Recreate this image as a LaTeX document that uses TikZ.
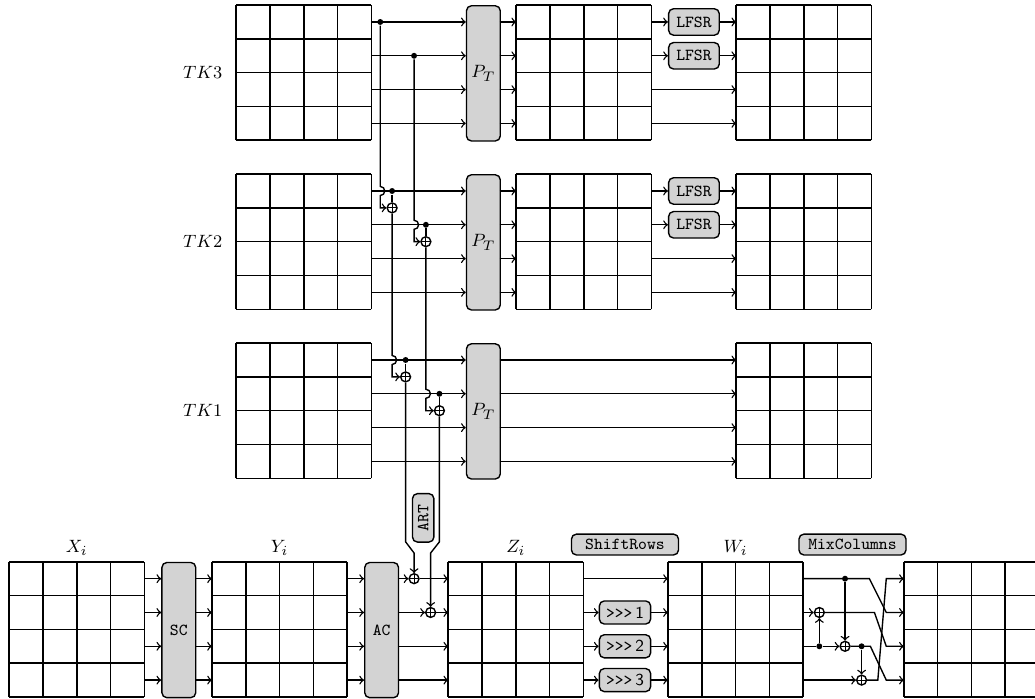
\documentclass[tikz,border=0pt]{standalone}
\usepackage{fontspec}
\definecolor{boxgray}{RGB}{211,211,211}
\newcommand{\ttlab}{\fontsize{8.5}{10}\selectfont\ttfamily}
\newcommand{\mathlab}{\fontsize{9.5}{11}\selectfont}
\newcommand{\mygrid}[3]{%
  \draw[gridline, shift={(#2,#3)}, step=0.6cm] (0,0) grid (4,-4);
  \node[inner sep=0pt, minimum width=2.4cm, minimum height=2.4cm, anchor=north west] (#1) at (#2,#3) {};
  \foreach \k in {1,2,3,4}{%
    \coordinate (#1-L\k) at (#2,{#3-\k+0.5});
    \coordinate (#1-R\k) at ({#2+4},{#3-\k+0.5});
  }%
}
\newcommand{\tallbox}[4]{%
  \node[tbox, anchor=north west] (#1) at (#2,#3) {#4};
  \foreach \k in {1,2,3,4}{%
    \coordinate (#1-L\k) at (#2,{#3-\k+0.5});
    \coordinate (#1-R\k) at ({#2+1},{#3-\k+0.5});
  }%
}
\begin{document}
\begin{tikzpicture}[x=0.6cm, y=0.6cm, line width=0.7pt,
  gridline/.style={line width=0.8pt},
  tbox/.style={draw, fill=boxgray, rounded corners=2.5pt, minimum width=0.6cm, minimum height=2.4cm, inner sep=0pt},
  sbox/.style={draw, fill=boxgray, rounded corners=2.5pt, inner sep=0pt, font=\ttlab},
  xorn/.style={circle, draw, fill=white, inner sep=0pt, minimum size=5pt,
    path picture={\draw[line width=0.5pt] (path picture bounding box.north) -- (path picture bounding box.south)
      (path picture bounding box.west) -- (path picture bounding box.east);}},
  dotn/.style={circle, fill=black, inner sep=0pt, minimum size=3pt},
  lab/.style={font=\mathlab, inner sep=1pt}]
\useasboundingbox (0,0) rectangle (30.62,-20.65);

% ---------- bottom round ----------
\mygrid{X}{0.27}{-16.62}
\tallbox{SC}{4.77}{-16.62}{\ttlab SC}
\mygrid{Y}{6.27}{-16.62}
\tallbox{AC}{10.77}{-16.62}{\ttlab AC}
\mygrid{Z}{13.26}{-16.62}
\mygrid{W}{19.76}{-16.62}
\mygrid{O}{26.74}{-16.62}

\node[lab] (lX) at (2.27,-16.2) {$X_i$};
\node[lab] (lY) at (8.27,-16.2) {$Y_i$};
\node[lab] (lZ) at (15.26,-16.2) {$Z_i$};
\node[lab] (lW) at (21.76,-16.2) {$W_i$};

\foreach \k in {1,2,3,4}{%
  \draw[->] (X-R\k) -- (SC-L\k);
  \draw[->] (SC-R\k) -- (Y-L\k);
  \draw[->] (Y-R\k) -- (AC-L\k);
}
\draw[->] (AC-R3) -- (Z-L3);
\draw[->] (AC-R4) -- (Z-L4);
\node[xorn] (xa0) at (12.25,-17.12) {};
\node[xorn] (xb0) at (12.74,-18.12) {};
\draw[->] (AC-R1) -- (xa0);
\draw[->] (xa0) -- (Z-L1);
\draw[->] (AC-R2) -- (xb0);
\draw[->] (xb0) -- (Z-L2);

% ShiftRows
\node[sbox, minimum width=1.9cm, minimum height=0.37cm] (SR) at (18.49,-16.11) {ShiftRows};
\draw[->] (Z-R1) -- (W-L1);
\foreach \k/\n in {2/1,3/2,4/3}{%
  \node[sbox, minimum width=0.91cm, minimum height=0.41cm] (sh\n) at (18.49,{-16.12-\k}) {>>>\,\textsf{\n}};
  \draw[->] (Z-R\k) -- (sh\n);
  \draw[->] (sh\n) -- (W-L\k);
}

% MixColumns
\node[sbox, minimum width=1.9cm, minimum height=0.37cm] (MC) at (25.22,-16.11) {MixColumns};
\node[dotn] (m1) at (25.0,-17.12) {};
\node[xorn] (mx3) at (25.0,-19.12) {};
\node[xorn] (mx2) at (24.24,-18.12) {};
\node[dotn] (m3) at (24.24,-19.12) {};
\node[dotn] (m3b) at (25.49,-19.12) {};
\node[xorn] (mx4) at (25.49,-20.12) {};
\coordinate (a1) at (25.72,-17.12); \coordinate (b1) at (26.22,-18.12);
\coordinate (a2) at (25.87,-18.12); \coordinate (b2) at (26.22,-19.12);
\coordinate (a3) at (25.75,-19.12); \coordinate (b3) at (26.22,-20.12);
\coordinate (a4) at (25.97,-20.12); \coordinate (b4) at (26.22,-17.12);
\draw[->] (W-R1) -- (a1) -- (b1) -- (O-L2);
\draw[->] (W-R2) -- (mx2);
\draw[->] (mx2) -- (a2) -- (b2) -- (O-L3);
\draw (W-R3) -- (m3);
\draw[->] (m3) -- (mx3);
\draw[->] (mx3) -- (a3) -- (b3) -- (O-L4);
\draw[->] (W-R4) -- (mx4);
\draw[->] (mx4) -- (a4) -- (b4) -- (O-L1);
\draw[->] (m1) -- (mx3);
\draw[->] (m3) -- (mx2);
\draw[->] (m3b) -- (mx4);

% ---------- tweakey schedule ----------
\mygrid{T3}{6.99}{-0.15}
\tallbox{P3}{13.78}{-0.15}{\mathlab $P_T$}
\mygrid{M3}{15.27}{-0.15}
\mygrid{Q3}{21.78}{-0.15}
\mygrid{T2}{6.99}{-5.15}
\tallbox{P2}{13.78}{-5.15}{\mathlab $P_T$}
\mygrid{M2}{15.27}{-5.15}
\mygrid{Q2}{21.78}{-5.15}
\mygrid{T1}{6.99}{-10.15}
\tallbox{P1}{13.78}{-10.15}{\mathlab $P_T$}
\mygrid{Q1}{21.78}{-10.15}

\node[lab] (tk3) at (6.0,-2.15) {$TK3$};
\node[lab] (tk2) at (6.0,-7.15) {$TK2$};
\node[lab] (tk1) at (6.0,-12.15) {$TK1$};

\foreach \k in {1,2,3,4}{%
  \draw[->] (T3-R\k) -- (P3-L\k);
  \draw[->] (P3-R\k) -- (M3-L\k);
  \draw[->] (T2-R\k) -- (P2-L\k);
  \draw[->] (P2-R\k) -- (M2-L\k);
  \draw[->] (T1-R\k) -- (P1-L\k);
  \draw[->] (P1-R\k) -- (Q1-L\k);
}
\foreach \t in {3,2}{%
  \node[sbox, minimum width=0.9cm, minimum height=0.47cm] (lf\t a) at (20.53,{-0.65-5*(3-\t)}) {LFSR};
  \node[sbox, minimum width=0.9cm, minimum height=0.47cm] (lf\t b) at (20.53,{-1.65-5*(3-\t)}) {LFSR};
  \draw[->] (M\t-R1) -- (lf\t a);
  \draw[->] (lf\t a) -- (Q\t-L1);
  \draw[->] (M\t-R2) -- (lf\t b);
  \draw[->] (lf\t b) -- (Q\t-L2);
  \draw[->] (M\t-R3) -- (Q\t-L3);
  \draw[->] (M\t-R4) -- (Q\t-L4);
}

% taps and xors
\node[dotn] (dA3) at (11.25,-0.65) {};
\node[dotn] (dB3) at (12.25,-1.65) {};
\coordinate (jA2) at (11.25,-5.65); \coordinate (cA2) at (11.25,-6.15);
\node[dotn] (dA2) at (11.6,-5.65) {};
\node[xorn] (xA2) at (11.6,-6.15) {};
\coordinate (jB2) at (12.25,-6.65); \coordinate (cB2) at (12.25,-7.15);
\node[dotn] (dB2) at (12.6,-6.65) {};
\node[xorn] (xB2) at (12.6,-7.15) {};
\coordinate (jA1) at (11.6,-10.65); \coordinate (cA1) at (11.6,-11.15);
\node[dotn] (dA1) at (12.0,-10.65) {};
\node[xorn] (xA1) at (12.0,-11.15) {};
\coordinate (jB1) at (12.6,-11.65); \coordinate (cB1) at (12.6,-12.15);
\node[dotn] (dB1) at (13.0,-11.65) {};
\node[xorn] (xB1) at (13.0,-12.15) {};

\draw[->] (dA3) -- ([yshift=2.3pt]jA2) arc[start angle=90, end angle=-90, radius=2.3pt] -- (cA2) -- (xA2);
\draw[->] (dB3) -- ([yshift=2.3pt]jB2) arc[start angle=90, end angle=-90, radius=2.3pt] -- (cB2) -- (xB2);
\draw (dA2) -- (xA2);
\draw (dB2) -- (xB2);
\draw[->] (xA2) -- ([yshift=2.3pt]jA1) arc[start angle=90, end angle=-90, radius=2.3pt] -- (cA1) -- (xA1);
\draw[->] (xB2) -- ([yshift=2.3pt]jB1) arc[start angle=90, end angle=-90, radius=2.3pt] -- (cB1) -- (xB1);
\draw (dA1) -- (xA1);
\draw (dB1) -- (xB1);

% ART
\node[sbox, rotate=90, minimum width=0.86cm, minimum height=0.38cm] (ART) at (12.52,-15.32) {ART};
\coordinate (kA1) at (12.0,-16.03); \coordinate (kA2) at (12.25,-16.36);
\coordinate (kB1) at (13.0,-16.03); \coordinate (kB2) at (12.74,-16.36);
\draw[->] (xA1) -- (kA1) -- (kA2) -- (xa0);
\draw[->] (xB1) -- (kB1) -- (kB2) -- (xb0);
\end{tikzpicture}
\end{document}
